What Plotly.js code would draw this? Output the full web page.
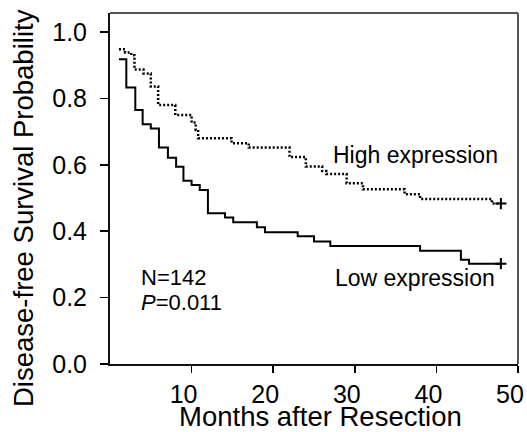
<!DOCTYPE html>
<html>
<head>
<meta charset="utf-8">
<script src="https://cdn.plot.ly/plotly-3.0.1.min.js"></script>
<style>html,body{margin:0;padding:0;background:#fff;}#chart{width:527px;height:432px;}</style>
</head>
<body>
<div id="chart"></div>
<script>
// Low expression (solid) step curve
const lowMonths = [1.1, 2.0, 3.1, 4.0, 5.0, 6.0, 7.1, 8.1, 9.0, 10.0, 11.0, 12.0, 14.1, 15.1, 18.0, 19.0, 23.0, 25.0, 27.0, 38.0, 43.0, 44.0, 47.9];
const lowSurv   = [0.918, 0.833, 0.765, 0.722, 0.709, 0.652, 0.621, 0.594, 0.552, 0.539, 0.524, 0.454, 0.441, 0.427, 0.412, 0.397, 0.385, 0.369, 0.355, 0.341, 0.314, 0.302, 0.302];
// High expression (dotted) step curve
const highMonths = [1.1, 1.85, 2.6, 3.0, 4.1, 5.0, 5.9, 8.0, 10.0, 10.5, 10.8, 14.9, 17.0, 22.0, 24.0, 26.0, 26.5, 29.0, 31.0, 36.1, 38.0, 46.8, 47.9];
const highSurv   = [0.948, 0.938, 0.93, 0.887, 0.875, 0.836, 0.78, 0.75, 0.727, 0.705, 0.68, 0.665, 0.652, 0.623, 0.595, 0.581, 0.572, 0.544, 0.526, 0.511, 0.497, 0.483, 0.483];
const yTicks = [0, 0.2, 0.4, 0.6, 0.8, 1.0];
const yTickText = ['0.0', '0.2', '0.4', '0.6', '0.8', '1.0'];
const xTicks = [10, 20, 30, 40, 50];

const FONT = 'Liberation Sans, Arial, Helvetica, sans-serif';

const traces = [
  {x: lowMonths, y: lowSurv, mode: 'lines', line: {shape: 'hv', color: '#000', width: 2}, hoverinfo: 'skip'},
  {x: highMonths, y: highSurv, mode: 'lines', line: {shape: 'hv', color: '#000', width: 2.5, dash: '2px,2px'}, hoverinfo: 'skip'},
  {x: [lowMonths[lowMonths.length-1], highMonths[highMonths.length-1]],
   y: [lowSurv[lowSurv.length-1], highSurv[highSurv.length-1]],
   mode: 'markers', marker: {symbol: 'cross-thin', size: 8, color: '#000', line: {width: 2, color: '#000'}}, hoverinfo: 'skip'}
];

const layout = {
  width: 527, height: 432,
  margin: {l: 110, r: 9, t: 13, b: 68},
  paper_bgcolor: '#fff', plot_bgcolor: '#fff',
  showlegend: false,
  font: {family: FONT, color: '#000'},
  xaxis: {
    range: [0, 50], tickvals: xTicks, ticks: 'outside', ticklen: 7, tickwidth: 1.5, tickcolor: '#000',
    showline: true, linewidth: 2, linecolor: '#111', mirror: false,
    showgrid: false, zeroline: false, ticklabeloverflow: 'allow', ticklabelshift: -8,
    tickfont: {size: 25, family: FONT, color: '#000'}
  },
  yaxis: {
    range: [0, 1.057], tickvals: yTicks, ticktext: yTickText, ticks: 'outside', ticklen: 8, tickwidth: 1.5, tickcolor: '#000',
    showline: true, linewidth: 2, linecolor: '#111', mirror: false,
    showgrid: false, zeroline: false, ticklabelstandoff: 8,
    tickfont: {size: 25, family: FONT, color: '#000'}
  },
  shapes: [
    {type: 'line', xref: 'paper', yref: 'paper', x0: 0, x1: 1, y0: 1, y1: 1, line: {color: '#555', width: 2}},
    {type: 'line', xref: 'paper', yref: 'paper', x0: 1, x1: 1, y0: 0, y1: 1, line: {color: '#555', width: 2}}
  ],
  annotations: [
    {x: 320, y: 416, xref: 'paper', yref: 'paper', text: 'Months after Resection', showarrow: false, xanchor: 'center', yanchor: 'middle', borderpad: 0, font: {size: 27.5, family: FONT, color: '#000'}},
    {x: 23, y: 208, xref: 'paper', yref: 'paper', text: 'Disease-free Survival Probability', showarrow: false, textangle: -90, xanchor: 'center', yanchor: 'middle', font: {size: 27.5, family: FONT, color: '#000'}},
    {x: 27.1, y: 0.63, xref: 'x', yref: 'y', text: 'High expression', showarrow: false, xanchor: 'left', yanchor: 'middle', font: {size: 23, family: FONT, color: '#000'}},
    {x: 27.3, y: 0.259, xref: 'x', yref: 'y', text: 'Low expression', showarrow: false, xanchor: 'left', yanchor: 'middle', font: {size: 23, family: FONT, color: '#000'}},
    {x: 3.6, y: 0.259, xref: 'x', yref: 'y', text: 'N=142', showarrow: false, xanchor: 'left', yanchor: 'middle', font: {size: 22, family: FONT, color: '#000'}},
    {x: 3.6, y: 0.184, xref: 'x', yref: 'y', text: '<i>P</i>=0.011', showarrow: false, xanchor: 'left', yanchor: 'middle', font: {size: 22, family: FONT, color: '#000'}}
  ]
};
// convert title pixel positions to paper coords
(function(){
  const plotW = 527 - 110 - 9, plotH = 432 - 13 - 68;
  [layout.annotations[0], layout.annotations[1]].forEach(function(a){
    a.x = (a.x - 110) / plotW;
    a.y = (432 - 68 - a.y) / plotH;
  });
})();

Plotly.newPlot('chart', traces, layout, {staticPlot: true, displayModeBar: false});
</script>
</body>
</html>
